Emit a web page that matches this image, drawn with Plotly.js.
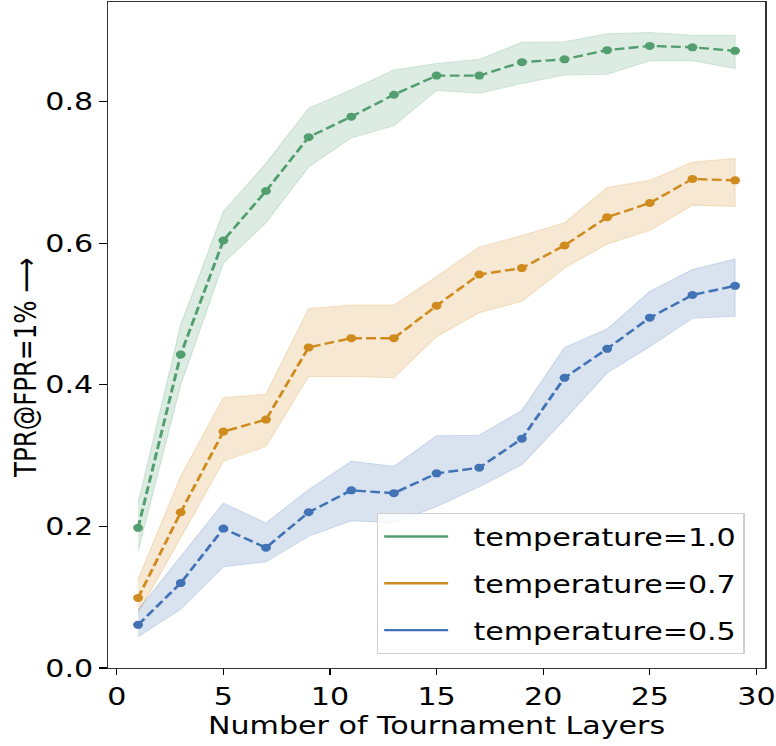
<!DOCTYPE html>
<html>
<head>
<meta charset="utf-8">
<script src="https://cdn.plot.ly/plotly-3.0.1.min.js"></script>
<style>
  html, body { margin: 0; padding: 0; background: #fff; overflow: hidden; }
  /* the reference figure is horizontally stretched; reproduce that aspect */
  #chart { width: 631px; height: 746px; transform: scaleX(1.2298); transform-origin: 0 0; }
</style>
</head>
<body>
<div id="chart"></div>
<script>
const layers = [1, 3, 5, 7, 9, 11, 13, 15, 17, 19, 21, 23, 25, 27, 29];

const seriesNames = ["temperature=1.0", "temperature=0.7", "temperature=0.5"];

const t10Mean  = [0.198, 0.443, 0.604, 0.674, 0.750, 0.779, 0.810, 0.837, 0.837, 0.856, 0.860, 0.873, 0.879, 0.877, 0.872];
const t10Upper = [0.233, 0.485, 0.645, 0.713, 0.791, 0.817, 0.845, 0.854, 0.860, 0.884, 0.885, 0.896, 0.898, 0.894, 0.894];
const t10Lower = [0.165, 0.400, 0.572, 0.629, 0.708, 0.749, 0.766, 0.816, 0.812, 0.826, 0.838, 0.839, 0.858, 0.858, 0.847];

const t07Mean  = [0.099, 0.220, 0.334, 0.351, 0.453, 0.466, 0.466, 0.512, 0.556, 0.565, 0.597, 0.637, 0.657, 0.691, 0.689];
const t07Upper = [0.125, 0.271, 0.382, 0.387, 0.508, 0.513, 0.513, 0.553, 0.595, 0.611, 0.629, 0.679, 0.689, 0.715, 0.720];
const t07Lower = [0.078, 0.184, 0.292, 0.313, 0.412, 0.412, 0.410, 0.468, 0.502, 0.518, 0.565, 0.599, 0.618, 0.654, 0.652];

const t05Mean  = [0.061, 0.120, 0.197, 0.170, 0.220, 0.251, 0.247, 0.275, 0.283, 0.324, 0.410, 0.451, 0.495, 0.527, 0.540];
const t05Upper = [0.082, 0.158, 0.233, 0.205, 0.252, 0.292, 0.285, 0.328, 0.329, 0.364, 0.453, 0.479, 0.532, 0.563, 0.578];
const t05Lower = [0.044, 0.083, 0.143, 0.150, 0.186, 0.208, 0.205, 0.228, 0.256, 0.287, 0.351, 0.417, 0.454, 0.494, 0.497];

const xTicks = [0, 5, 10, 15, 20, 25, 30];
const yTicks = [0.0, 0.2, 0.4, 0.6, 0.8];

const xTitle = "Number of Tournament Layers";
const yTitle = "TPR@FPR=1% \u27F6";

const colors = ["#529E6E", "#D08B1E", "#4172B4"];
const fills  = ["rgba(82,158,110,0.2)", "rgba(208,139,30,0.2)", "rgba(65,114,180,0.2)"];

const groups = [
  [t10Mean, t10Upper, t10Lower],
  [t07Mean, t07Upper, t07Lower],
  [t05Mean, t05Upper, t05Lower]
];

const traces = [];
groups.forEach((g, i) => {
  const [mean, up, lo] = g;
  traces.push({
    x: layers.concat(layers.slice().reverse()),
    y: up.concat(lo.slice().reverse()),
    type: "scatter", mode: "lines",
    fill: "toself", fillcolor: fills[i],
    line: { width: 1, color: fills[i] },
    hoverinfo: "skip", showlegend: false
  });
});
groups.forEach((g, i) => {
  const [mean] = g;
  traces.push({
    x: layers, y: mean,
    type: "scatter", mode: "lines+markers",
    line: { color: colors[i], width: 2.4, dash: "8px,3.5px" },
    marker: { color: colors[i], size: 8 },
    showlegend: false
  });
});
groups.forEach((g, i) => {
  traces.push({
    x: [null], y: [null],
    type: "scatter", mode: "lines",
    name: "\u00a0\u00a0" + seriesNames[i],
    legendgroup: "g" + i,
    line: { color: colors[i], width: 2.4 },
    showlegend: true
  });
});

const font = { family: "DejaVu Sans, sans-serif", color: "#000" };

const layout = {
  width: 631, height: 746,
  margin: { l: 88, r: 9, t: 2, b: 78 },
  paper_bgcolor: "#fff", plot_bgcolor: "#fff",
  font: Object.assign({ size: 24 }, font),
  showlegend: true,
  xaxis: {
    range: [-0.4, 30.4],
    tickvals: xTicks, ticktext: xTicks.map(String),
    ticks: "outside", ticklen: 6, tickwidth: 1.1, tickcolor: "#000",
    showline: true, linecolor: "#333", linewidth: 1.3, mirror: true,
    showgrid: false, zeroline: false,
    tickfont: Object.assign({ size: 24.5 }, font),
    title: { text: xTitle, font: Object.assign({ size: 24.5 }, font), standoff: 6 }
  },
  yaxis: {
    range: [0, 0.941],
    tickvals: yTicks, ticktext: yTicks.map(v => v.toFixed(1)),
    ticks: "outside", ticklen: 6, tickwidth: 1.1, tickcolor: "#000",
    showline: true, linecolor: "#333", linewidth: 1.3, mirror: true,
    showgrid: false, zeroline: false,
    tickfont: Object.assign({ size: 24.5 }, font)
  },
  annotations: [{
    text: yTitle, textangle: -90,
    xref: "paper", yref: "paper", x: -0.126, y: 0.45,
    xanchor: "center", yanchor: "middle", showarrow: false,
    font: Object.assign({ size: 24.5 }, font)
  }],
  legend: {
    x: 0.409, y: 0.021, xanchor: "left", yanchor: "bottom",
    bgcolor: "rgba(255,255,255,0.8)", bordercolor: "#d0d0d0", borderwidth: 1,
    font: Object.assign({ size: 24.5 }, font),
    itemwidth: 52, tracegroupgap: 12
  }
};

Plotly.newPlot("chart", traces, layout, { displayModeBar: false, staticPlot: true });
</script>
</body>
</html>
